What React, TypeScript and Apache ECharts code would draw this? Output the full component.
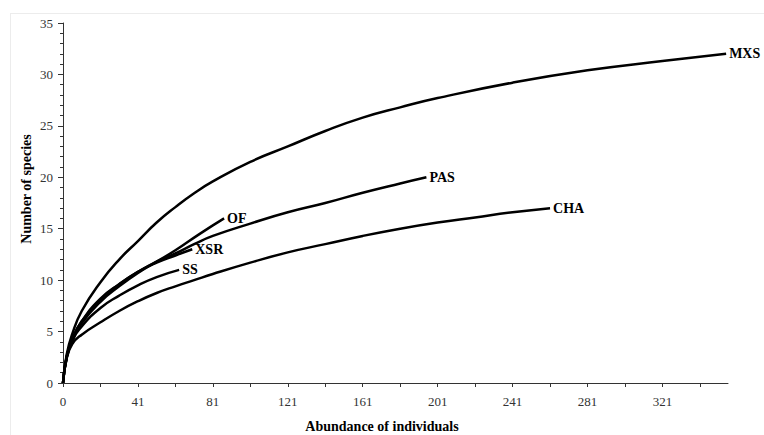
import { useEffect, useRef } from 'react';
import * as echarts from 'echarts';

const FONT = "'Liberation Serif', 'Times New Roman', serif";

// Abundance of individuals (x) and number of species (y) per site
const mxsX = [1, 3, 6, 11, 21, 31, 41, 51, 61, 71, 81, 101, 121, 141, 161, 181, 201, 241, 281, 321, 355];
const mxsY = [0, 2.8, 4.8, 7.0, 9.8, 12.0, 13.8, 15.6, 17.1, 18.45, 19.6, 21.5, 23.0, 24.5, 25.8, 26.8, 27.7, 29.2, 30.4, 31.3, 32.0];

const pasX = [1, 3, 6, 11, 21, 31, 41, 51, 61, 71, 81, 101, 121, 141, 161, 181, 195];
const pasY = [0, 2.6, 4.3, 6.0, 8.2, 9.6, 10.8, 11.8, 12.6, 13.5, 14.3, 15.5, 16.6, 17.5, 18.5, 19.4, 20.0];

const chaX = [1, 3, 6, 11, 21, 31, 41, 51, 61, 71, 81, 101, 121, 141, 161, 181, 201, 221, 241, 261];
const chaY = [0, 2.4, 3.8, 4.7, 5.9, 7.0, 7.95, 8.75, 9.4, 10.0, 10.6, 11.7, 12.7, 13.5, 14.3, 15.0, 15.6, 16.1, 16.6, 17.0];

const ofX = [1, 3, 6, 11, 21, 31, 41, 51, 61, 74, 87];
const ofY = [0, 2.5, 4.1, 5.8, 7.9, 9.4, 10.7, 11.8, 12.9, 14.5, 16.0];

const xsrX = [1, 3, 6, 11, 21, 31, 41, 51, 61, 70];
const xsrY = [0, 2.6, 4.3, 6.0, 8.1, 9.6, 10.8, 11.7, 12.4, 13.0];

const ssX = [1, 3, 6, 11, 21, 31, 41, 51, 63];
const ssY = [0, 2.5, 4.1, 5.5, 7.3, 8.5, 9.5, 10.3, 11.0];

const seriesNames = ['MXS', 'PAS', 'CHA', 'OF', 'XSR', 'SS'];
const seriesXs = [mxsX, pasX, chaX, ofX, xsrX, ssX];
const seriesYs = [mxsY, pasY, chaY, ofY, xsrY, ssY];

// Axis ticks and labels
const xTickValues = [1, 21, 41, 61, 81, 101, 121, 141, 161, 181, 201, 221, 241, 261, 281, 301, 321, 341];
const xLabelValues = [1, 41, 81, 121, 161, 201, 241, 281, 321];
const xTickLabels = ['0', '41', '81', '121', '161', '201', '241', '281', '321'];

const xTitle = 'Abundance of individuals';
const yTitle = 'Number of species';

export default function App() {
  const ref = useRef<HTMLDivElement>(null);

  useEffect(() => {
    const chart = echarts.init(ref.current!, null, { renderer: 'svg' });
    const series = seriesNames.map((name, i) => ({
      name,
      type: 'line',
      data: seriesXs[i].map((x, j) => [x, seriesYs[i][j]]),
      showSymbol: false,
      smooth: 0.5,
      lineStyle: { color: '#000', width: 2.5 },
      itemStyle: { color: '#000' },
      endLabel: {
        show: true,
        formatter: '{a}',
        distance: 3,
        color: '#000',
        fontFamily: FONT,
        fontWeight: 'bold',
        fontSize: 14,
      },
      silent: true,
    }));

    chart.setOption({
      animation: false,
      backgroundColor: '#fff',
      grid: { left: 63, right: 36, top: 23, bottom: 52 },
      xAxis: {
        type: 'value',
        min: 1,
        max: 356,
        axisLine: { show: true, lineStyle: { color: '#333', width: 1 } },
        axisTick: { show: true, length: 4, customValues: xTickValues, lineStyle: { color: '#333' } },
        axisLabel: {
          customValues: xLabelValues,
          formatter: (v: number) => {
            const k = xLabelValues.indexOf(v);
            return k >= 0 ? xTickLabels[k] : '';
          },
          margin: 12,
          fontSize: 13,
          fontFamily: FONT,
          color: '#333',
        },
        splitLine: { show: false },
      },
      yAxis: {
        type: 'value',
        min: 0,
        max: 35,
        interval: 5,
        axisLine: { show: true, lineStyle: { color: '#333', width: 1 } },
        axisTick: { show: true, length: 5, lineStyle: { color: '#333' } },
        minorTick: { show: true, splitNumber: 5, length: 3, lineStyle: { color: '#333' } },
        axisLabel: { margin: 10, fontSize: 13, fontFamily: FONT, color: '#333' },
        splitLine: { show: false },
        minorSplitLine: { show: false },
      },
      graphic: [
        { type: 'line', shape: { x1: 10, y1: 13.5, x2: 764, y2: 13.5 }, style: { stroke: '#ececec', lineWidth: 1 }, silent: true },
        { type: 'line', shape: { x1: 10.5, y1: 13, x2: 10.5, y2: 435 }, style: { stroke: '#ececec', lineWidth: 1 }, silent: true },
        {
          type: 'text',
          x: 382,
          y: 426,
          style: {
            text: xTitle,
            fontFamily: FONT,
            fontWeight: 'bold',
            fontSize: 14,
            fill: '#000',
            textAlign: 'center',
            textVerticalAlign: 'middle',
          },
        },
        {
          type: 'text',
          x: 26,
          y: 189,
          rotation: Math.PI / 2,
          style: {
            text: yTitle,
            fontFamily: FONT,
            fontWeight: 'bold',
            fontSize: 14,
            fill: '#000',
            textAlign: 'center',
            textVerticalAlign: 'middle',
          },
        },
      ],
      series,
    });
    return () => chart.dispose();
  }, []);

  return (
    <div
      ref={ref}
      style={{ position: 'fixed', left: 0, top: 0, width: 764, height: 435, background: '#fff' }}
    />
  );
}
